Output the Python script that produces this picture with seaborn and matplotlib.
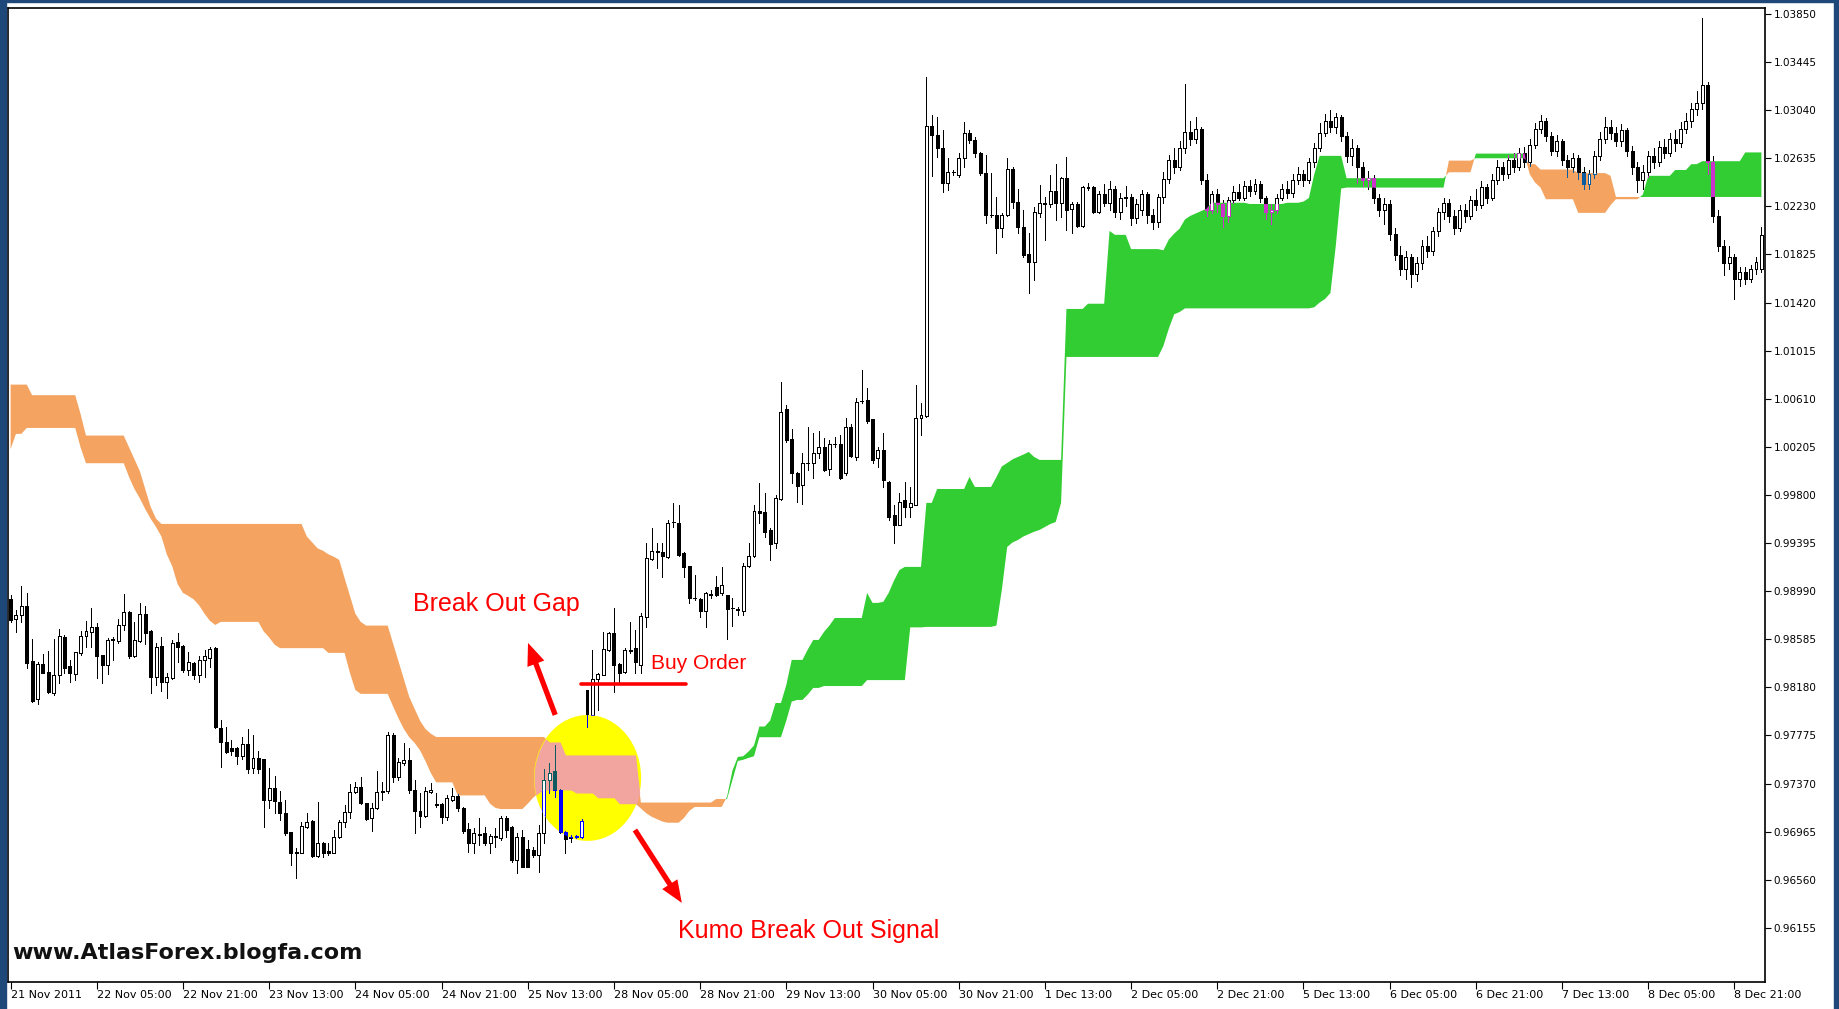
import numpy as np
import matplotlib
matplotlib.use("Agg")
import matplotlib.pyplot as plt
from matplotlib.collections import LineCollection, PatchCollection
from matplotlib.patches import Rectangle, Ellipse, FancyArrowPatch
from matplotlib.path import Path
import seaborn as sns

# --- H1 candles, prices in points (1 point = 0.00001) ---
opens = [
    98920, 98753, 98790, 98868, 98400, 98080, 98374, 98310, 98136, 98285,
    98607, 98360, 98290, 98467, 98613, 98650, 98692, 98450, 98369, 98579,
    98574, 98706, 98818, 98445, 98574, 98795, 98655, 98271, 98529, 98228,
    98257, 98565, 98529, 98327, 98389, 98285, 98411, 98425, 98509, 97841,
    97723, 97667, 97667, 97603, 97701, 97499, 97583, 97577, 97232, 97330,
    97218, 97120, 96965, 96788, 96788, 97007, 97058, 96760, 96873, 96805,
    96788, 96923, 97049, 97134, 97302, 97344, 97204, 97078, 97162, 97297,
    97311, 97779, 97428, 97541, 97569, 97316, 97142, 97100, 97297, 97195,
    97198, 97086, 97232, 97269, 97162, 96985, 96867, 96945, 96951, 96873,
    96925, 96909, 97078, 97007, 96727, 96918, 96817, 96811, 96769, 96951,
    97400, 97479, 97316, 96965, 96923, 96917, 96923, 98158, 97948, 98248,
    98285, 98495, 98641, 98377, 98313, 98495, 98509, 98369, 98775, 99260,
    99325, 99322, 99280, 99575, 99561, 99308, 99202, 98935, 98921, 98826,
    98965, 99028, 98972, 98958, 98845, 98840, 98826, 99202, 99286, 99668,
    99660, 99505, 99393, 99764, 100521, 100269, 99988, 99884, 100072, 100067,
    100151, 100207, 100016, 100229, 100229, 99982, 100370, 100123, 100590, 100600,
    100437, 100109, 100179, 99912, 99631, 99547, 99758, 99702, 99716, 100446,
    100465, 102907, 102831, 102719, 102430, 102520, 102495, 102635, 102846, 102789,
    102683, 102509, 102160, 102158, 102051, 102158, 102542, 102270, 102060, 101830,
    101765, 102177, 102255, 102250, 102363, 102256, 102467, 102206, 102248, 102065,
    102391, 102391, 102186, 102330, 102260, 102380, 102180, 102300, 102310, 102130,
    102200, 102330, 102160, 102100, 102310, 102460, 102620, 102560, 102720, 102860,
    102800, 102880, 102450, 102200, 102330, 102250, 102150, 102280, 102350, 102300,
    102400, 102360, 102420, 102300, 102180, 102200, 102300, 102380, 102340, 102450,
    102500, 102450, 102600, 102720, 102850, 102950, 102900, 102980, 102820, 102650,
    102720, 102560, 102450, 102470, 102300, 102200, 102250, 102000, 101820, 101700,
    101800, 101660, 101750, 101900, 101850, 102020, 102180, 102260, 102150, 102050,
    102200, 102150, 102280, 102240, 102390, 102300, 102450, 102560, 102500, 102620,
    102560, 102680, 102600, 102750, 102880, 102950, 102820, 102700, 102780, 102620,
    102560, 102640, 102520, 102420, 102500, 102650, 102800, 102900, 102850, 102780,
    102870, 102700, 102560, 102450, 102520, 102650, 102600, 102730, 102680, 102800,
    102760, 102880, 102950, 103050, 103100, 103250, 102600, 102150, 101900, 101750,
    101800, 101620, 101680, 101620, 101700, 101700,
]
highs = [
    98960, 98832, 99034, 98972, 98591, 98397, 98459, 98490, 98591, 98669,
    98621, 98411, 98481, 98658, 98742, 98846, 98720, 98450, 98593, 98602,
    98753, 98964, 98820, 98734, 98888, 98868, 98660, 98551, 98602, 98299,
    98579, 98641, 98537, 98475, 98390, 98445, 98495, 98518, 98523, 97906,
    97850, 97737, 97680, 97765, 97827, 97779, 97647, 97580, 97499, 97434,
    97311, 97232, 96965, 96825, 97044, 97120, 97064, 97218, 96881, 96873,
    96979, 97064, 97190, 97367, 97386, 97428, 97204, 97204, 97479, 97386,
    97807, 97793, 97583, 97715, 97667, 97400, 97288, 97344, 97378, 97288,
    97204, 97274, 97330, 97280, 97170, 97036, 96993, 97078, 97007, 96945,
    96993, 97097, 97097, 97010, 96951, 96979, 96895, 96839, 97021, 97490,
    97541, 97695, 97320, 96970, 96937, 96937, 97069, 98160, 98495, 98299,
    98649, 98649, 98846, 98383, 98509, 98734, 98664, 98804, 99393, 99519,
    99393, 99393, 99589, 99729, 99715, 99322, 99205, 99126, 98930, 98986,
    99000, 99118, 99190, 98960, 98930, 98860, 99224, 99393, 99715, 99898,
    99814, 99519, 99800, 100754, 100558, 100353, 99990, 100151, 100375, 100319,
    100342, 100277, 100263, 100291, 100305, 100446, 100398, 100614, 100853, 100698,
    100440, 100207, 100319, 99915, 99716, 99820, 99912, 99870, 100726, 100572,
    103317, 102999, 102986, 102874, 102635, 102537, 102677, 102944, 102874, 102818,
    102690, 102663, 102509, 102312, 102172, 102635, 102565, 102374, 102200, 102003,
    102228, 102410, 102312, 102495, 102587, 102481, 102643, 102270, 102270, 102402,
    102430, 102402, 102360, 102420, 102440, 102400, 102340, 102400, 102330, 102290,
    102370, 102350, 102210, 102330, 102520, 102660, 102720, 102780, 103260, 102950,
    102980, 102900, 102500, 102360, 102380, 102280, 102310, 102400, 102420, 102440,
    102450, 102460, 102440, 102320, 102250, 102330, 102420, 102440, 102500, 102560,
    102540, 102640, 102760, 102930, 103010, 103040, 103020, 103000, 102860, 102800,
    102750, 102600, 102530, 102490, 102330, 102300, 102280, 102050, 101900, 101850,
    101830, 101800, 101950, 101980, 102060, 102220, 102300, 102290, 102200, 102240,
    102250, 102320, 102380, 102440, 102420, 102500, 102620, 102600, 102660, 102680,
    102720, 102730, 102800, 102930, 103000, 102970, 102860, 102830, 102800, 102660,
    102680, 102660, 102560, 102540, 102700, 102860, 102980, 102960, 102900, 102920,
    102890, 102740, 102600, 102580, 102700, 102720, 102780, 102800, 102850, 102870,
    102940, 103020, 103100, 103200, 103820, 103280, 102650, 102200, 101950, 101900,
    101830, 101720, 101720, 101740, 101800, 102057,
]
lows = [
    98730, 98650, 98734, 98341, 98060, 98040, 98299, 98130, 98116, 98214,
    98299, 98228, 98242, 98453, 98518, 98518, 98256, 98214, 98293, 98411,
    98557, 98664, 98425, 98433, 98565, 98546, 98130, 98200, 98153, 98088,
    98250, 98397, 98313, 98285, 98248, 98228, 98265, 98355, 97836, 97507,
    97630, 97611, 97535, 97574, 97457, 97457, 97457, 97007, 97162, 97120,
    97064, 96937, 96685, 96572, 96783, 96993, 96755, 96749, 96755, 96769,
    96783, 96909, 97007, 97078, 97288, 97198, 97064, 96974, 97153, 97232,
    97294, 97386, 97400, 97527, 97288, 96957, 97007, 97090, 97288, 97170,
    97036, 97064, 97226, 97140, 96951, 96797, 96783, 96853, 96853, 96783,
    96839, 96895, 96923, 96713, 96614, 96665, 96665, 96755, 96628, 96867,
    97288, 97255, 96951, 96783, 96881, 96912, 96909, 97850, 97948, 97990,
    98285, 98490, 98144, 98228, 98299, 98467, 98299, 98299, 98691, 99250,
    99182, 99112, 99266, 99533, 99290, 99112, 98893, 98915, 98775, 98691,
    98930, 98950, 98958, 98584, 98697, 98790, 98790, 99190, 99280, 99561,
    99449, 99252, 99351, 99758, 100249, 99898, 99744, 99724, 100010, 99940,
    100109, 100005, 99968, 100207, 99938, 99968, 100123, 100095, 100572, 100403,
    100067, 100039, 99870, 99589, 99393, 99545, 99617, 99617, 99716, 100305,
    100460, 102486, 102649, 102354, 102368, 102495, 102481, 102565, 102761, 102649,
    102495, 102088, 102144, 101835, 101975, 102150, 102214, 102003, 101807, 101498,
    101610, 102144, 101947, 102228, 102116, 102144, 102031, 102003, 102060, 102060,
    102368, 102172, 102170, 102230, 102200, 102140, 102120, 102230, 102070, 102090,
    102160, 102090, 102040, 102060, 102260, 102430, 102510, 102540, 102680, 102750,
    102760, 102420, 102150, 102170, 102180, 102060, 102100, 102260, 102280, 102280,
    102320, 102330, 102270, 102120, 102080, 102170, 102280, 102300, 102310, 102420,
    102400, 102430, 102560, 102700, 102820, 102860, 102850, 102780, 102600, 102580,
    102430, 102400, 102380, 102260, 102150, 102080, 101950, 101780, 101650, 101620,
    101550, 101600, 101700, 101800, 101820, 101980, 102120, 102100, 102000, 102020,
    102100, 102120, 102200, 102220, 102260, 102280, 102420, 102450, 102470, 102520,
    102540, 102560, 102570, 102720, 102850, 102780, 102660, 102650, 102580, 102480,
    102520, 102460, 102380, 102380, 102470, 102620, 102760, 102800, 102740, 102740,
    102650, 102500, 102350, 102380, 102480, 102550, 102570, 102640, 102650, 102700,
    102730, 102850, 102900, 103000, 103050, 102500, 102100, 101850, 101650, 101700,
    101450, 101560, 101580, 101590, 101660, 101680,
]
closes = [
    98750, 98790, 98868, 98383, 98068, 98377, 98304, 98139, 98285, 98613,
    98346, 98299, 98475, 98616, 98655, 98692, 98445, 98369, 98579, 98585,
    98706, 98818, 98445, 98579, 98795, 98635, 98271, 98523, 98228, 98265,
    98557, 98518, 98327, 98397, 98285, 98411, 98447, 98503, 97850, 97723,
    97639, 97648, 97603, 97701, 97490, 97583, 97490, 97232, 97330, 97226,
    97120, 96951, 96788, 96795, 97016, 97049, 96760, 96873, 96783, 96783,
    96923, 97049, 97134, 97302, 97339, 97204, 97069, 97162, 97297, 97311,
    97779, 97428, 97555, 97569, 97316, 97142, 97100, 97311, 97316, 97190,
    97086, 97246, 97269, 97162, 96974, 96867, 96951, 96940, 96867, 96929,
    96920, 97078, 96979, 96727, 96918, 96671, 96671, 96769, 96951, 97400,
    97457, 97316, 96965, 96901, 96912, 96929, 97058, 97956, 98248, 98293,
    98501, 98641, 98369, 98304, 98495, 98490, 98397, 98781, 99266, 99331,
    99320, 99286, 99567, 99570, 99294, 99196, 98930, 98930, 98826, 98972,
    98955, 98958, 99042, 98837, 98845, 98832, 99202, 99286, 99668, 99650,
    99491, 99387, 99772, 100502, 100263, 99982, 99876, 100072, 100068, 100151,
    100207, 100010, 100229, 100225, 99940, 100370, 100128, 100586, 100595, 100426,
    100095, 100179, 99926, 99617, 99547, 99744, 99702, 99735, 100446, 100474,
    102907, 102831, 102719, 102430, 102523, 102515, 102635, 102846, 102789, 102677,
    102509, 102158, 102155, 102046, 102158, 102542, 102270, 102060, 101821, 101765,
    102186, 102262, 102250, 102363, 102256, 102467, 102200, 102248, 102065, 102391,
    102385, 102186, 102330, 102260, 102380, 102180, 102300, 102310, 102130, 102250,
    102330, 102160, 102100, 102310, 102460, 102620, 102560, 102720, 102860, 102800,
    102880, 102450, 102200, 102330, 102250, 102150, 102280, 102350, 102300, 102400,
    102360, 102420, 102300, 102180, 102200, 102300, 102380, 102340, 102450, 102500,
    102450, 102600, 102720, 102850, 102950, 102900, 102980, 102820, 102650, 102720,
    102560, 102450, 102470, 102300, 102200, 102250, 102000, 101820, 101700, 101800,
    101660, 101750, 101900, 101850, 102020, 102180, 102260, 102150, 102050, 102200,
    102150, 102280, 102240, 102390, 102300, 102450, 102560, 102500, 102620, 102560,
    102680, 102600, 102750, 102880, 102950, 102820, 102700, 102780, 102620, 102560,
    102640, 102520, 102420, 102500, 102650, 102800, 102900, 102850, 102780, 102870,
    102700, 102560, 102450, 102520, 102650, 102600, 102730, 102680, 102800, 102760,
    102880, 102950, 103050, 103100, 103250, 102600, 102150, 101900, 101750, 101800,
    101620, 101680, 101620, 101700, 101760, 101990,
]

# --- Ichimoku cloud (Senkou Span A / B), points ---
senkou_a = [
    100186, 100314, 100314, 100364, 100364, 100364, 100364, 100364, 100364, 100364,
    100364, 100364, 100364, 100200, 100067, 100067, 100067, 100067, 100067, 100067,
    100067, 100067, 99950, 99850, 99771, 99680, 99600, 99530, 99450, 99300,
    99200, 99050, 98975, 98950, 98920, 98870, 98800, 98740, 98705, 98731,
    98731, 98731, 98731, 98731, 98731, 98731, 98731, 98650, 98600, 98540,
    98510, 98510, 98510, 98510, 98510, 98510, 98510, 98510, 98510, 98470,
    98470, 98470, 98470, 98300, 98158, 98125, 98125, 98125, 98125, 98125,
    98125, 98020, 97920, 97830, 97760, 97712, 97650, 97560, 97460, 97380,
    97380, 97380, 97380, 97270, 97270, 97270, 97270, 97270, 97270, 97200,
    97165, 97155, 97155, 97155, 97155, 97155, 97200, 97250, 97290, 97316,
    97316, 97316, 97316, 97316, 97316, 97290, 97290, 97290, 97290, 97250,
    97250, 97250, 97250, 97200, 97200, 97200, 97200, 97160, 97120, 97090,
    97070, 97050, 97040, 97040, 97040, 97080, 97140, 97173, 97173, 97173,
    97173, 97173, 97173, 97260, 97480, 97594, 97600, 97640, 97690, 97850,
    97850, 97900, 98048, 98048, 98200, 98411, 98411, 98411, 98500, 98579,
    98579, 98647, 98700, 98764, 98764, 98764, 98764, 98764, 98764, 98975,
    98891, 98891, 98900, 98975, 99080, 99168, 99194, 99194, 99194, 99194,
    99733, 99733, 99850, 99850, 99850, 99850, 99850, 99850, 99952, 99867,
    99867, 99867, 99867, 99950, 100040, 100069, 100100, 100120, 100140, 100162,
    100120, 100095, 100095, 100095, 100095, 100095, 101366, 101366, 101366, 101366,
    101410, 101410, 101410, 101410, 102023, 101990, 101990, 101990, 101870, 101870,
    101870, 101870, 101870, 101870, 101860, 101950, 102000, 102042, 102120, 102150,
    102170, 102190, 102210, 102260, 102260, 102260, 102260, 102260, 102260, 102260,
    102250, 102250, 102250, 102250, 102250, 102250, 102250, 102260, 102260, 102260,
    102270, 102300, 102500, 102655, 102655, 102655, 102655, 102655, 102467, 102467,
    102467, 102467, 102467, 102467, 102467, 102467, 102467, 102467, 102467, 102467,
    102467, 102467, 102467, 102467, 102467, 102467, 102467, 102517, 102517, 102517,
    102517, 102517, 102674, 102674, 102674, 102674, 102674, 102674, 102674, 102674,
    102674, 102674, 102500, 102430, 102388, 102290, 102290, 102290, 102290, 102290,
    102290, 102175, 102175, 102175, 102175, 102175, 102175, 102240, 102290, 102290,
    102290, 102290, 102290, 102330, 102487, 102487, 102487, 102487, 102487, 102536,
    102536, 102536, 102585, 102585, 102610, 102610, 102610, 102610, 102610, 102610,
    102610, 102610, 102684, 102684, 102684, 102684,
]
senkou_b = [
    100729, 100729, 100729, 100729, 100640, 100640, 100640, 100640, 100640, 100640,
    100640, 100640, 100640, 100480, 100300, 100300, 100300, 100300, 100300, 100300,
    100300, 100300, 100200, 100100, 100000, 99850, 99700, 99600, 99556, 99556,
    99556, 99556, 99556, 99556, 99556, 99556, 99556, 99556, 99556, 99556,
    99556, 99556, 99556, 99556, 99556, 99556, 99556, 99556, 99556, 99556,
    99556, 99556, 99556, 99556, 99556, 99450, 99400, 99350, 99330, 99300,
    99280, 99253, 99100, 98950, 98800, 98731, 98700, 98700, 98700, 98700,
    98700, 98550, 98400, 98250, 98100, 98000, 97900, 97830, 97790, 97762,
    97762, 97762, 97762, 97762, 97762, 97762, 97762, 97762, 97762, 97762,
    97762, 97762, 97762, 97762, 97762, 97762, 97762, 97762, 97762, 97762,
    97720, 97720, 97720, 97611, 97611, 97611, 97611, 97611, 97611, 97611,
    97611, 97611, 97611, 97611, 97611, 97611, 97611, 97210, 97210, 97210,
    97210, 97210, 97210, 97210, 97210, 97210, 97210, 97210, 97210, 97210,
    97210, 97240, 97240, 97240, 97400, 97560, 97570, 97586, 97600, 97760,
    97760, 97760, 97760, 97760, 97900, 98060, 98074, 98074, 98120, 98175,
    98175, 98191, 98191, 98191, 98191, 98191, 98191, 98191, 98191, 98241,
    98241, 98241, 98241, 98241, 98241, 98241, 98241, 98685, 98685, 98685,
    98689, 98689, 98689, 98689, 98689, 98689, 98689, 98689, 98689, 98689,
    98689, 98689, 98689, 98700, 99000, 99362, 99400, 99421, 99450, 99470,
    99490, 99505, 99530, 99555, 99572, 99733, 100962, 100962, 100962, 100962,
    100962, 100962, 100962, 100962, 100962, 100962, 100962, 100962, 100962, 100962,
    100962, 100962, 100962, 100962, 101055, 101200, 101321, 101340, 101371, 101371,
    101371, 101371, 101371, 101371, 101371, 101371, 101371, 101371, 101371, 101371,
    101371, 101371, 101371, 101371, 101371, 101371, 101371, 101371, 101371, 101371,
    101371, 101371, 101380, 101420, 101450, 101500, 101900, 102380, 102388, 102388,
    102388, 102388, 102388, 102388, 102388, 102388, 102388, 102388, 102388, 102388,
    102388, 102388, 102388, 102388, 102388, 102388, 102388, 102615, 102615, 102615,
    102615, 102615, 102635, 102635, 102635, 102635, 102635, 102635, 102635, 102635,
    102635, 102635, 102585, 102585, 102540, 102540, 102540, 102540, 102540, 102540,
    102540, 102510, 102510, 102510, 102510, 102510, 102510, 102487, 102309, 102309,
    102309, 102309, 102309, 102309, 102309, 102309, 102309, 102309, 102309, 102309,
    102309, 102309, 102309, 102309, 102309, 102309, 102309, 102309, 102309, 102309,
    102309, 102309, 102309, 102309, 102309, 102309,
]

# one time label every 16 bars
time_labels = ['21 Nov 2011', '22 Nov 05:00', '22 Nov 21:00', '23 Nov 13:00', '24 Nov 05:00',
               '24 Nov 21:00', '25 Nov 13:00', '28 Nov 05:00', '28 Nov 21:00', '29 Nov 13:00',
               '30 Nov 05:00', '30 Nov 21:00', '1 Dec 13:00', '2 Dec 05:00', '2 Dec 21:00',
               '5 Dec 13:00', '6 Dec 05:00', '6 Dec 21:00', '7 Dec 13:00', '8 Dec 05:00',
               '8 Dec 21:00']
price_ticks = [0.96155, 0.96560, 0.96965, 0.97370, 0.97775, 0.98180, 0.98585, 0.98990,
               0.99395, 0.99800, 1.00205, 1.00610, 1.01015, 1.01420, 1.01825, 1.02230,
               1.02635, 1.03040, 1.03445, 1.03850]
buy_order_price = 0.98210

n = len(opens)
for name, arr in [('highs', highs), ('lows', lows), ('closes', closes),
                  ('senkou_a', senkou_a), ('senkou_b', senkou_b)]:
    assert len(arr) == n, (name, len(arr), n)

bars = np.arange(n)
o = np.array(opens) / 1e5
h = np.array(highs) / 1e5
l = np.array(lows) / 1e5
c = np.array(closes) / 1e5
sa = np.array(senkou_a) / 1e5
sb = np.array(senkou_b) / 1e5

SANDY = '#F4A460'
LIME = '#32CD32'
PINK = '#F2A59F'
YELLOW = '#FFFF00'
BORDER = '#1E487A'

sns.set_theme(style='white')
plt.rcParams['font.family'] = ['DejaVu Sans']

W, H = 1839, 1009
fig = plt.figure(figsize=(W / 100, H / 100), dpi=100)
fig.patch.set_facecolor('white')
ax = fig.add_axes([8 / W, 27 / H, 1757 / W, 974 / H])
ax.set_facecolor('white')

# kumo
kumo_dn = ax.fill_between(bars, sa, sb, where=sb >= sa, interpolate=True,
                          color=SANDY, lw=0, zorder=1)
kumo_up = ax.fill_between(bars, sa, sb, where=sa > sb, interpolate=True,
                          color=LIME, lw=0, zorder=1)

# highlight circle
cx, cy, ew, eh = 107.1, 0.97417, 19.9, 0.0106
ell = Ellipse((cx, cy), ew, eh, facecolor=YELLOW, edgecolor='none', zorder=2)
ax.add_patch(ell)

# cloud part inside the circle
xs = np.linspace(cx - ew / 2, cx + ew / 2, 800)
half = eh / 2 * np.sqrt(np.clip(1 - ((xs - cx) / (ew / 2)) ** 2, 0, None))
ctop = np.interp(xs, bars, np.maximum(sa, sb))
cbot = np.interp(xs, bars, np.minimum(sa, sb))
hi = np.minimum(ctop, cy + half)
lo = np.maximum(cbot, cy - half)
pink = ax.fill_between(xs, lo, hi, where=hi > lo, interpolate=True,
                       color=PINK, lw=0, zorder=2.5)


def merged(coll):
    return Path.make_compound_path(*coll.get_paths())


bw = 0.55
bear = c < o
wick_segs = [[(k, l[k]), (k, h[k])] for k in bars]


def add_candles(color, clip=None, z=3):
    rects = [Rectangle((k - bw / 2, min(o[k], c[k])), bw, abs(c[k] - o[k])) for k in bars]
    wc = LineCollection(wick_segs, colors=color, linewidths=0.72,
                        antialiased=False, zorder=z)
    bc = PatchCollection(rects, facecolors=[color if b else 'white' for b in bear],
                         edgecolors=color, linewidths=0.72, antialiased=False,
                         zorder=z + 0.01)
    for art in (wc, bc):
        ax.add_collection(art)
        if isinstance(clip, Path):
            art.set_clip_path(clip, ax.transData)
        elif clip is not None:
            art.set_clip_path(clip)


add_candles('black')
add_candles('#0B5B9F', merged(kumo_dn), z=4)
add_candles('#CD32CD', merged(kumo_up), z=4)
add_candles('#0000FF', ell, z=5)
add_candles('#0D5A60', merged(pink), z=6)

# buy order line
sns.lineplot(x=[105.8, 125.4], y=[buy_order_price, buy_order_price], color='red',
             linewidth=2.6, ax=ax, zorder=9)

# arrows
for tail, head in [((101.1, 0.97948), (96.05, 0.98554)),
                   ((115.9, 0.96979), (124.6, 0.96365))]:
    ax.add_patch(FancyArrowPatch(tail, head, arrowstyle='simple,head_length=16,head_width=13,tail_width=3.8',
                                 mutation_scale=1, color='red', lw=0, shrinkA=0, shrinkB=0, zorder=10))

ax.text(74.7, 0.98882, 'Break Out Gap', color='red', fontsize=18,
        family=['Liberation Sans'], ha='left', va='center', zorder=10)
ax.text(118.9, 0.98377, 'Buy Order', color='red', fontsize=15,
        family=['Liberation Sans'], ha='left', va='center', zorder=10)
ax.text(123.9, 0.96129, 'Kumo Break Out Signal', color='red', fontsize=18,
        family=['Liberation Sans'], ha='left', va='center', zorder=10)
ax.text(0.3, 0.95944, 'www.AtlasForex.blogfa.com', color='#111111', fontsize=16,
        fontweight='bold', ha='left', va='center', zorder=10)

# axes
ax.set_xlim(-0.48, 325.67)
ax.set_ylim(0.95699, 1.03900)
ax.set_xticks(np.arange(len(time_labels)) * 16)
ax.set_xticklabels(time_labels, ha='left')
ax.tick_params(axis='x', direction='out', length=5, width=0.8, pad=1,
               labelsize=8, bottom=True, colors='black')
ax.yaxis.tick_right()
ax.set_yticks(price_ticks)
ax.set_yticklabels([f'{v:.5f}' for v in price_ticks])
ax.tick_params(axis='y', direction='out', length=4, width=0.8, pad=2,
               labelsize=7.5, right=True, left=False, colors='black')
for sp in ax.spines.values():
    sp.set_visible(True)
    sp.set_color('black')
    sp.set_linewidth(1.2)

# window border
for x0, y0, w, hh in [(0, 0, 6, H), (0, H - 2, W, 2), (W - 5, 0, 5, H)]:
    fig.patches.append(Rectangle((x0 / W, y0 / H), w / W, hh / H,
                                 transform=fig.transFigure, color=BORDER, zorder=0))

fig.savefig('out.png', dpi=100)
